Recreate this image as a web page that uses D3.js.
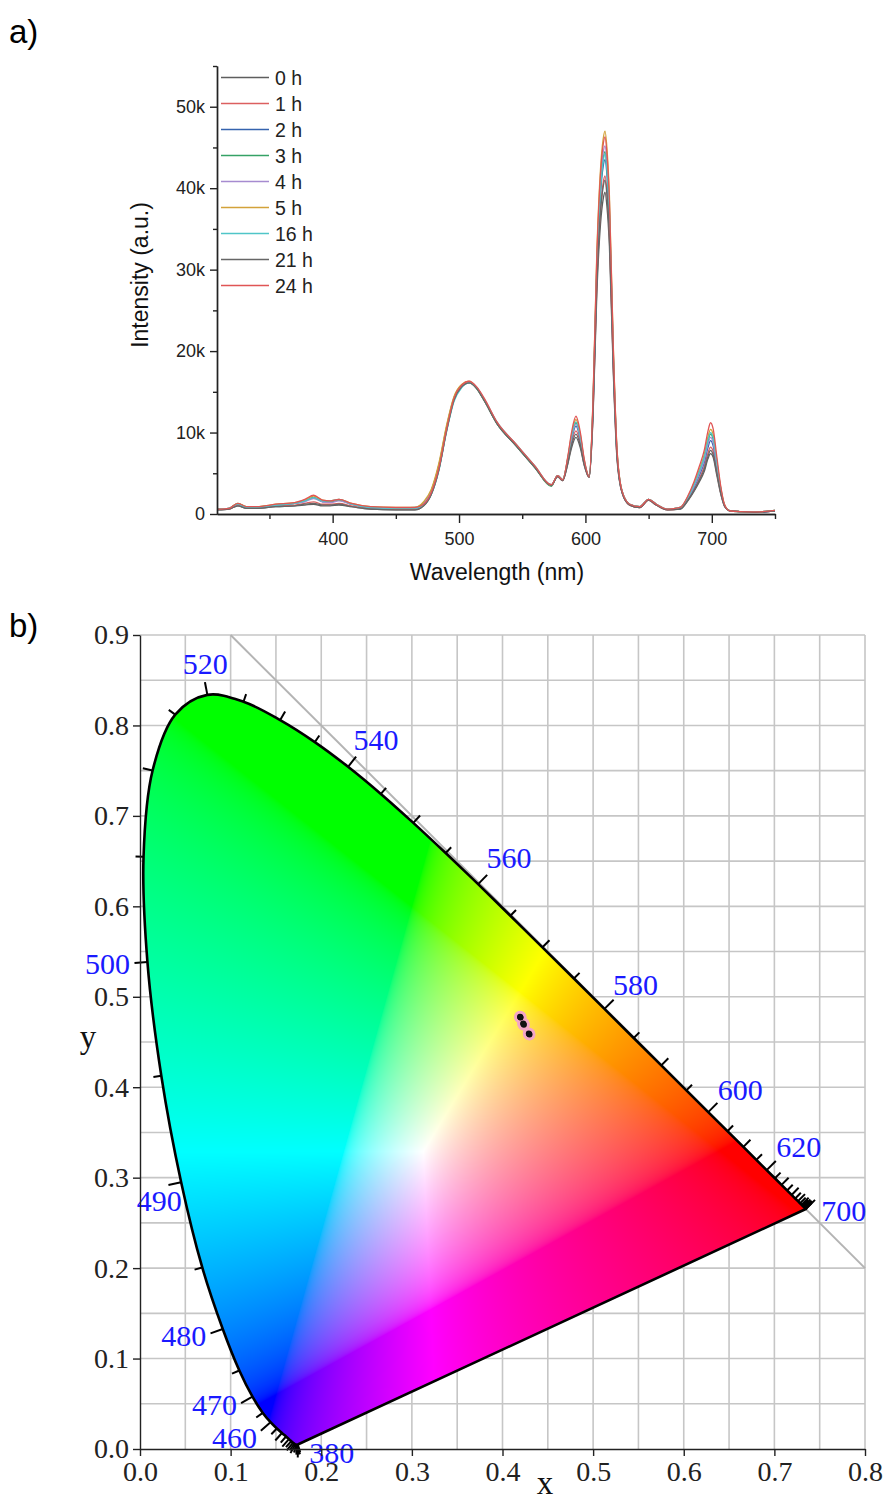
<!DOCTYPE html>
<html>
<head>
<meta charset="utf-8">
<script src="https://cdn.jsdelivr.net/npm/d3@7"></script>
<style>
  body { margin: 0; background: #fff; }
  svg { display: block; }
</style>
</head>
<body>
<svg id="chart" width="887" height="1499"></svg>
<script>
// ---------- panel a data (intensity in thousands of counts) ----------
const wavelengths = [309, 318, 325, 332, 340, 355, 370, 378, 385, 392, 398, 405, 415, 430, 450, 465,
  472, 478, 484, 490, 496, 502, 508, 514, 520, 530, 545, 560, 573, 578, 582, 586, 589, 592.5, 596, 599,
  603, 606, 609, 612, 614, 615.5, 617, 619, 622, 625, 629, 635, 643, 650, 656, 665, 675, 681, 686, 690,
  694, 697, 699, 701, 704, 707, 710, 714, 722, 735, 750];

const hourLabels = ["0 h", "1 h", "2 h", "3 h", "4 h", "5 h", "16 h", "21 h", "24 h"];
const hourColors = ["#5e5e5e", "#dc5f5f", "#3563ae", "#35a266", "#a68bd0", "#d3a23a", "#4fc5c8", "#666666", "#e05555"];

const int0h = [0.5, 0.6, 1.0, 0.7, 0.7, 0.9, 1.0, 1.1, 1.2, 1.0, 1.0, 1.1, 0.9, 0.6, 0.5, 0.5,
  1.0, 2.4, 5.4, 10.1, 14.0, 15.6, 16.1, 15.4, 13.9, 11.1, 8.4, 5.7, 3.5, 4.6, 4.1, 6.1, 8.1, 9.4, 8.1, 6.0,
  4.5, 11.8, 26.9, 35.7, 38.6, 39.5, 37.8, 32.8, 17.6, 6.7, 2.6, 1.1, 0.8, 1.7, 1.1, 0.5, 0.6, 1.6, 2.8, 3.9,
  5.2, 6.8, 7.4, 7.0, 4.7, 2.5, 1.0, 0.4, 0.3, 0.2, 0.4];
const int1h = [0.6, 0.6, 1.1, 0.8, 0.8, 1.0, 1.1, 1.3, 1.5, 1.2, 1.2, 1.3, 1.0, 0.7, 0.6, 0.6,
  1.1, 2.5, 5.5, 10.2, 14.1, 15.7, 16.2, 15.5, 14.0, 11.2, 8.5, 5.8, 3.5, 4.6, 4.1, 6.4, 8.7, 10.2, 8.7, 6.2,
  4.5, 12.4, 28.3, 37.5, 40.6, 41.5, 39.7, 34.4, 18.5, 7.1, 2.7, 1.1, 0.8, 1.7, 1.1, 0.5, 0.7, 1.8, 3.0, 4.3,
  5.8, 7.5, 8.2, 7.7, 5.2, 2.7, 1.0, 0.4, 0.3, 0.2, 0.4];
const int2h = [0.6, 0.7, 1.2, 0.8, 0.8, 1.1, 1.3, 1.6, 2.0, 1.5, 1.5, 1.7, 1.2, 0.8, 0.7, 0.7,
  1.2, 2.6, 5.6, 10.3, 14.1, 15.7, 16.2, 15.5, 14.0, 11.2, 8.5, 5.8, 3.5, 4.7, 4.2, 6.6, 9.1, 10.8, 9.1, 6.4,
  4.6, 13.0, 29.6, 39.4, 42.6, 43.5, 41.7, 36.1, 19.4, 7.4, 2.7, 1.2, 0.9, 1.8, 1.2, 0.6, 0.7, 1.9, 3.3, 4.7,
  6.3, 8.2, 9.0, 8.4, 5.7, 2.9, 1.1, 0.4, 0.3, 0.2, 0.4];
const int3h = [0.6, 0.7, 1.3, 0.9, 0.9, 1.1, 1.3, 1.6, 2.0, 1.6, 1.5, 1.7, 1.2, 0.8, 0.7, 0.8,
  1.4, 2.9, 6.0, 10.6, 14.3, 15.8, 16.2, 15.4, 13.9, 11.1, 8.4, 5.7, 3.4, 4.7, 4.2, 6.7, 9.4, 11.2, 9.4, 6.5,
  4.6, 13.3, 30.3, 40.2, 43.6, 44.5, 42.6, 36.9, 19.9, 7.6, 2.8, 1.2, 0.9, 1.8, 1.2, 0.6, 0.8, 2.0, 3.6, 5.1,
  6.9, 8.9, 9.8, 9.2, 6.2, 3.1, 1.1, 0.4, 0.3, 0.25, 0.45];
const int4h = [0.6, 0.7, 1.2, 0.8, 0.8, 1.1, 1.3, 1.5, 1.9, 1.5, 1.4, 1.6, 1.2, 0.8, 0.7, 0.7,
  1.3, 2.8, 5.9, 10.5, 14.2, 15.8, 16.2, 15.5, 14.0, 11.2, 8.5, 5.8, 3.5, 4.7, 4.2, 6.7, 9.3, 11.0, 9.3, 6.5,
  4.6, 13.5, 30.8, 40.9, 44.3, 45.2, 43.3, 37.5, 20.2, 7.7, 2.8, 1.2, 0.9, 1.8, 1.2, 0.6, 0.8, 1.9, 3.4, 4.9,
  6.6, 8.6, 9.4, 8.8, 5.9, 3.0, 1.1, 0.4, 0.3, 0.25, 0.45];
const int5h = [0.6, 0.7, 1.3, 0.9, 0.9, 1.2, 1.4, 1.7, 2.2, 1.7, 1.6, 1.8, 1.3, 0.9, 0.8, 0.8,
  1.5, 3.0, 6.2, 10.8, 14.4, 15.9, 16.3, 15.5, 14.0, 11.2, 8.5, 5.8, 3.5, 4.7, 4.2, 6.9, 9.7, 11.6, 9.7, 6.7,
  4.6, 14.0, 32.0, 42.5, 46.0, 47.0, 45.0, 39.0, 21.0, 8.0, 2.8, 1.2, 0.9, 1.8, 1.2, 0.6, 0.8, 2.1, 3.8, 5.4,
  7.3, 9.5, 10.4, 9.8, 6.5, 3.3, 1.2, 0.4, 0.3, 0.25, 0.45];
const int16h = [0.6, 0.7, 1.2, 0.8, 0.8, 1.1, 1.3, 1.6, 2.0, 1.6, 1.6, 1.8, 1.2, 0.8, 0.7, 0.7,
  1.1, 2.4, 5.3, 10.0, 13.8, 15.5, 16.1, 15.5, 14.1, 11.3, 8.6, 5.9, 3.6, 4.7, 4.2, 6.8, 9.5, 11.3, 9.5, 6.6,
  4.6, 13.2, 30.1, 40.0, 43.2, 44.2, 42.3, 36.7, 19.7, 7.5, 2.8, 1.2, 0.9, 1.8, 1.2, 0.6, 0.8, 2.0, 3.6, 5.2,
  7.0, 9.1, 10.0, 9.4, 6.3, 3.2, 1.1, 0.4, 0.3, 0.25, 0.45];
const int21h = [0.5, 0.6, 1.0, 0.7, 0.7, 0.9, 1.0, 1.2, 1.3, 1.1, 1.1, 1.2, 0.9, 0.6, 0.5, 0.5,
  1.0, 2.4, 5.4, 10.1, 14.0, 15.6, 16.1, 15.4, 13.9, 11.1, 8.4, 5.7, 3.5, 4.6, 4.1, 6.2, 8.4, 9.8, 8.4, 6.1,
  4.5, 12.2, 27.9, 37.1, 40.1, 41.0, 39.2, 34.0, 18.3, 7.0, 2.6, 1.1, 0.8, 1.7, 1.1, 0.5, 0.6, 1.7, 2.9, 4.1,
  5.5, 7.1, 7.8, 7.3, 5.0, 2.6, 1.0, 0.4, 0.3, 0.2, 0.4];
const int24h = [0.6, 0.7, 1.3, 0.9, 0.9, 1.2, 1.4, 1.8, 2.3, 1.7, 1.6, 1.8, 1.3, 0.9, 0.8, 0.8,
  1.2, 2.6, 5.6, 10.3, 14.2, 15.8, 16.3, 15.6, 14.2, 11.3, 8.6, 5.9, 3.6, 4.7, 4.2, 7.0, 10.0, 12.0, 10.0, 6.8,
  4.6, 13.8, 31.5, 41.9, 45.3, 46.3, 44.3, 38.4, 20.7, 7.9, 2.8, 1.2, 0.9, 1.8, 1.2, 0.6, 0.8, 2.2, 4.0, 5.8,
  7.8, 10.2, 11.2, 10.5, 7.0, 3.5, 1.2, 0.4, 0.3, 0.25, 0.45];

const intensities = [int0h, int1h, int2h, int3h, int4h, int5h, int16h, int21h, int24h];

const yTicksA = [0, 10, 20, 30, 40, 50];
const yMinorA = [5, 15, 25, 35, 45, 55];
const xTicksA = [400, 500, 600, 700];
const xMinorA = [350, 450, 550, 650, 750];

// ---------- panel b data (CIE 1931 spectral locus + samples) ----------
const cieWl = [380, 385, 390, 395, 400, 405, 410, 415, 420, 425, 430, 435, 440, 445, 450, 455, 460, 465,
  470, 475, 480, 485, 490, 495, 500, 505, 510, 515, 520, 525, 530, 535, 540, 545, 550, 555, 560, 565,
  570, 575, 580, 585, 590, 595, 600, 605, 610, 615, 620, 625, 630, 635, 640, 645, 650, 655, 660, 665,
  670, 675, 680, 685, 690, 695, 700];
const cieX = [0.1741, 0.1740, 0.1738, 0.1736, 0.1733, 0.1730, 0.1726, 0.1721, 0.1714, 0.1703, 0.1689,
  0.1669, 0.1644, 0.1611, 0.1566, 0.1510, 0.1440, 0.1355, 0.1241, 0.1096, 0.0913, 0.0687, 0.0454, 0.0235,
  0.0082, 0.0039, 0.0139, 0.0389, 0.0743, 0.1142, 0.1547, 0.1929, 0.2296, 0.2658, 0.3016, 0.3373, 0.3731,
  0.4087, 0.4441, 0.4788, 0.5125, 0.5448, 0.5752, 0.6029, 0.6270, 0.6482, 0.6658, 0.6801, 0.6915, 0.7006,
  0.7079, 0.7140, 0.7190, 0.7230, 0.7260, 0.7283, 0.7300, 0.7311, 0.7320, 0.7327, 0.7334, 0.7340, 0.7344,
  0.7346, 0.7347];
const cieY = [0.0050, 0.0050, 0.0049, 0.0049, 0.0048, 0.0048, 0.0048, 0.0048, 0.0051, 0.0058, 0.0069,
  0.0086, 0.0109, 0.0138, 0.0177, 0.0227, 0.0297, 0.0399, 0.0578, 0.0868, 0.1327, 0.2007, 0.2950, 0.4127,
  0.5384, 0.6548, 0.7502, 0.8120, 0.8338, 0.8262, 0.8059, 0.7816, 0.7543, 0.7243, 0.6923, 0.6589, 0.6245,
  0.5896, 0.5547, 0.5202, 0.4866, 0.4544, 0.4242, 0.3965, 0.3725, 0.3514, 0.3340, 0.3197, 0.3083, 0.2993,
  0.2920, 0.2859, 0.2809, 0.2770, 0.2740, 0.2717, 0.2700, 0.2689, 0.2680, 0.2673, 0.2666, 0.2660, 0.2656,
  0.2654, 0.2653];

const locusLabels = [380, 460, 470, 480, 490, 500, 520, 540, 560, 580, 600, 620, 700];

const sampleX = [0.4194, 0.4199, 0.4231, 0.4236, 0.4228, 0.4290, 0.4294, 0.4197, 0.4298];
const sampleY = [0.4780, 0.4770, 0.4700, 0.4692, 0.4705, 0.4595, 0.4589, 0.4775, 0.4583];

const xTicksB = [0, 0.1, 0.2, 0.3, 0.4, 0.5, 0.6, 0.7, 0.8];
const yTicksB = [0, 0.1, 0.2, 0.3, 0.4, 0.5, 0.6, 0.7, 0.8, 0.9];

// ---------------------------------------------------------------------
const sans = "'Liberation Sans', Arial, sans-serif";
const serif = "'Liberation Serif', 'Times New Roman', serif";
const svg = d3.select("#chart");

svg.append("text").attr("x", 9).attr("y", 43).attr("font-family", sans).attr("font-size", 33).text("a)");
svg.append("text").attr("x", 9).attr("y", 637).attr("font-family", sans).attr("font-size", 33).text("b)");

// ===== panel a: emission spectra =====
const xA = d3.scaleLinear().domain([308.5, 750]).range([217, 775]);
const yA = d3.scaleLinear().domain([0, 55]).range([514, 66]);
const gA = svg.append("g");

const spectra = intensities.map((vals, i) => ({ label: hourLabels[i], color: hourColors[i], vals }));
const line = d3.line()
  .x((d, i) => xA(wavelengths[i]))
  .y(d => yA(d))
  .curve(d3.curveMonotoneX);

gA.selectAll(".spec")
  .data(spectra)
  .join("path")
  .attr("class", "spec")
  .attr("fill", "none")
  .attr("stroke", d => d.color)
  .attr("stroke-width", 1.3)
  .attr("d", d => line(d.vals));

function styleAxis(g, size, family) {
  g.attr("font-size", size).attr("font-family", family);
  g.selectAll("path, line").attr("stroke", "#222").attr("stroke-width", 1.4);
  g.selectAll("text").attr("fill", "#222");
}

gA.append("g").attr("transform", "translate(0,514)")
  .call(d3.axisBottom(xA).tickValues(xMinorA).tickSize(5).tickSizeOuter(0).tickFormat(""))
  .call(styleAxis, 18, sans);
gA.append("g").attr("transform", "translate(0,514)")
  .call(d3.axisBottom(xA).tickValues(xTicksA).tickSize(9).tickSizeOuter(0).tickPadding(9))
  .call(styleAxis, 18, sans);
gA.append("g").attr("transform", "translate(217,0)")
  .call(d3.axisLeft(yA).tickValues(yMinorA).tickSize(4).tickSizeOuter(0).tickFormat(""))
  .call(styleAxis, 18, sans);
gA.append("g").attr("transform", "translate(217,0)")
  .call(d3.axisLeft(yA).tickValues(yTicksA).tickSize(7).tickSizeOuter(0).tickPadding(5)
    .tickFormat(d => d === 0 ? "0" : d + "k"))
  .call(styleAxis, 18, sans);

gA.append("text").attr("x", 497).attr("y", 580).attr("text-anchor", "middle")
  .attr("font-family", sans).attr("font-size", 23).attr("fill", "#111").text("Wavelength (nm)");
gA.append("text").attr("transform", "translate(148,275) rotate(-90)").attr("text-anchor", "middle")
  .attr("font-family", sans).attr("font-size", 23).attr("fill", "#111").text("Intensity (a.u.)");

// legend
const leg = gA.append("g");
spectra.forEach((s, i) => {
  const yy = 77.5 + i * 26;
  leg.append("line").attr("x1", 221).attr("x2", 269).attr("y1", yy).attr("y2", yy)
    .attr("stroke", s.color).attr("stroke-width", 1.4);
  leg.append("text").attr("x", 275).attr("y", yy).attr("dy", "0.36em")
    .attr("font-family", sans).attr("font-size", 19.5).attr("fill", "#222").text(s.label);
});

// ===== panel b: CIE 1931 chromaticity diagram =====
const xB = d3.scaleLinear().domain([0, 0.8]).range([140, 865]);
const yB = d3.scaleLinear().domain([0, 0.9]).range([1449, 635]);
const gB = svg.append("g");

// grid every 0.05
const gridX = d3.range(1, 17).map(k => k * 0.05);
const gridY = d3.range(1, 19).map(k => k * 0.05);
gB.selectAll(".gx").data(gridX).join("line").attr("class", "gx")
  .attr("x1", d => xB(d)).attr("x2", d => xB(d)).attr("y1", yB(0)).attr("y2", yB(0.9))
  .attr("stroke", "#c6c6c6").attr("stroke-width", 1.6);
gB.selectAll(".gy").data(gridY).join("line").attr("class", "gy")
  .attr("x1", xB(0)).attr("x2", xB(0.8)).attr("y1", d => yB(d)).attr("y2", d => yB(d))
  .attr("stroke", "#c6c6c6").attr("stroke-width", 1.6);
gB.append("line").attr("x1", xB(0.1)).attr("y1", yB(0.9)).attr("x2", xB(0.8)).attr("y2", yB(0.2))
  .attr("stroke", "#b4b4b4").attr("stroke-width", 2);

// colour fill of the horseshoe
function xyToRgb(cx, cy) {
  if (cy <= 0.0005) cy = 0.0005;
  const X = cx / cy, Y = 1, Z = (1 - cx - cy) / cy;
  let r = 3.2406 * X - 1.5372 * Y - 0.4986 * Z;
  let g = -0.9689 * X + 1.8758 * Y + 0.0415 * Z;
  let b = 0.0557 * X - 0.2040 * Y + 1.0570 * Z;
  r = Math.max(0, r); g = Math.max(0, g); b = Math.max(0, b);
  const m = Math.max(r, g, b) || 1;
  const gam = v => { v /= m; return v <= 0.0031308 ? 12.92 * v : 1.055 * Math.pow(v, 1 / 2.4) - 0.055; };
  return [gam(r) * 255, gam(g) * 255, gam(b) * 255];
}
const x0 = xB(0), x1 = xB(0.8), y0 = yB(0.9), y1 = yB(0);
const cw = Math.ceil(x1 - x0), ch = Math.ceil(y1 - y0);
const canvas = document.createElement("canvas");
canvas.width = cw; canvas.height = ch;
const ctx = canvas.getContext("2d");
const img = ctx.createImageData(cw, ch);
for (let j = 0; j < ch; j++) {
  const cy = yB.invert(y0 + j + 0.5);
  for (let i = 0; i < cw; i++) {
    const cx = xB.invert(x0 + i + 0.5);
    const c = xyToRgb(cx, cy);
    const k = (j * cw + i) * 4;
    img.data[k] = c[0]; img.data[k + 1] = c[1]; img.data[k + 2] = c[2]; img.data[k + 3] = 255;
  }
}
ctx.putImageData(img, 0, 0);

const locusPts = cieWl.map((w, i) => [xB(cieX[i]), yB(cieY[i])]);
// smooth spectral curve, closed by the straight purple line
const locusPath = d3.line().curve(d3.curveCatmullRom.alpha(0.5))(locusPts) + "Z";
svg.append("defs").append("clipPath").attr("id", "locusClip").append("path").attr("d", locusPath);
gB.append("image").attr("x", x0).attr("y", y0).attr("width", cw).attr("height", ch)
  .attr("preserveAspectRatio", "none")
  .attr("href", canvas.toDataURL()).attr("clip-path", "url(#locusClip)");
gB.append("path").attr("d", locusPath).attr("fill", "none")
  .attr("stroke", "#000").attr("stroke-width", 2.6).attr("stroke-linejoin", "round");

// wavelength ticks along the locus
const labelOffsets = {
  380: [34, 8], 460: [-36, 15], 470: [-38, 8], 480: [-39, 7], 490: [-22, 18], 500: [-40, 1],
  520: [-2, -31], 540: [28, -27], 560: [31, -27], 580: [31, -24], 600: [32, -23], 620: [32, -24], 700: [38, 1]
};
cieWl.forEach((w, i) => {
  const a = locusPts[Math.max(0, i - 1)], b = locusPts[Math.min(locusPts.length - 1, i + 1)];
  let tx = b[0] - a[0], ty = b[1] - a[1];
  const L = Math.hypot(tx, ty) || 1; tx /= L; ty /= L;
  const nx = ty, ny = -tx;
  const len = locusLabels.includes(w) ? 13 : (w % 10 === 0 ? 10 : 8);
  const p = locusPts[i];
  gB.append("line").attr("x1", p[0]).attr("y1", p[1])
    .attr("x2", p[0] + nx * len).attr("y2", p[1] + ny * len)
    .attr("stroke", "#000").attr("stroke-width", 2);
});
locusLabels.forEach(w => {
  const i = cieWl.indexOf(w), p = locusPts[i], o = labelOffsets[w];
  gB.append("text").attr("x", p[0] + o[0]).attr("y", p[1] + o[1]).attr("dy", "0.35em")
    .attr("text-anchor", "middle").attr("font-family", serif).attr("font-size", 30)
    .attr("fill", "#1a1aff").text(w);
});

// axes
gB.append("g").attr("transform", `translate(0,${yB(0)})`)
  .call(d3.axisBottom(xB).tickValues(xTicksB).tickSize(7).tickSizeOuter(0).tickPadding(5).tickFormat(d3.format(".1f")))
  .call(styleAxis, 28, serif);
gB.append("g").attr("transform", `translate(${xB(0)},0)`)
  .call(d3.axisLeft(yB).tickValues(yTicksB).tickSize(7).tickSizeOuter(0).tickPadding(4).tickFormat(d3.format(".1f")))
  .call(styleAxis, 28, serif);
gB.append("text").attr("x", 88).attr("y", 1048).attr("text-anchor", "middle")
  .attr("font-family", serif).attr("font-size", 33).attr("fill", "#111").text("y");
gB.append("text").attr("x", 545).attr("y", 1494).attr("text-anchor", "middle")
  .attr("font-family", serif).attr("font-size", 33).attr("fill", "#111").text("x");

// sample chromaticity points
gB.selectAll(".halo").data(sampleX).join("circle").attr("class", "halo")
  .attr("cx", d => xB(d)).attr("cy", (d, i) => yB(sampleY[i])).attr("r", 6)
  .attr("fill", "#f4a6c6");
gB.selectAll(".pt").data(sampleX).join("circle").attr("class", "pt")
  .attr("cx", d => xB(d)).attr("cy", (d, i) => yB(sampleY[i])).attr("r", 3)
  .attr("fill", "#111");
</script>
</body>
</html>
